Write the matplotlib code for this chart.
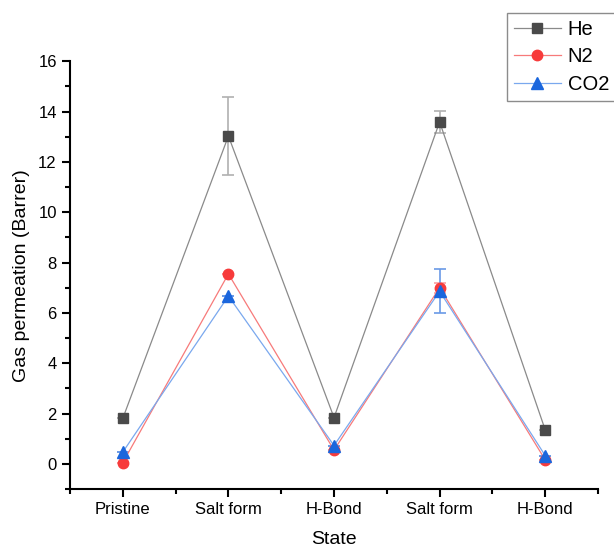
import numpy as np
import matplotlib.pyplot as plt
from matplotlib.ticker import MultipleLocator, FixedLocator
from matplotlib.lines import Line2D

plt.rcParams['font.family'] = ['Liberation Sans', 'DejaVu Sans']

states = ['Pristine', 'Salt form', 'H-Bond', 'Salt form', 'H-Bond']
he = [1.81, 13.03, 1.84, 13.59, 1.35]
he_err = [0, 1.55, 0, 0.43, 0]
n2 = [0.05, 7.55, 0.55, 7.0, 0.16]
n2_err = [0, 0, 0, 0.2, 0]
co2 = [0.47, 6.67, 0.73, 6.86, 0.33]
co2_err = [0, 0, 0, 0.87, 0]

x = np.arange(1, len(states) + 1)

fig = plt.figure(figsize=(6.14, 5.52), dpi=100)
ax = fig.add_axes([0.114, 0.114, 0.86, 0.775])

series = [
    ('He', he, he_err, 's', 7, '#4a4a4a', '#8a8a8a', '#b0b0b0'),
    ('N2', n2, n2_err, 'o', 7.5, '#f73b3b', '#f77a7a', '#f9a0a0'),
    ('CO2', co2, co2_err, '^', 8, '#1a66dd', '#7aa8ee', '#6a9ae6'),
]
handles = []
for name, y, err, mk, ms, mc, lc, ec in series:
    ax.errorbar(x, y, yerr=err, color=lc, lw=0.9, marker=mk, ms=ms,
                mfc=mc, mec=mc, ecolor=ec, elinewidth=1.2, capsize=4,
                capthick=1.2)
    handles.append(Line2D([], [], color=lc, lw=0.9, marker=mk, ms=ms,
                          mfc=mc, mec=mc, label=name))

ax.set_xlim(0.5, 5.5)
ax.set_ylim(-1, 16)
ax.set_xticks(x)
ax.set_xticklabels(states)
ax.xaxis.set_minor_locator(FixedLocator(np.arange(0.5, 6, 1)))
ax.yaxis.set_minor_locator(MultipleLocator(1))
ax.set_yticks(np.arange(0, 17, 2))

for s in ['top', 'right']:
    ax.spines[s].set_visible(False)
for s in ['left', 'bottom']:
    ax.spines[s].set_linewidth(1.5)
ax.tick_params(which='major', direction='out', length=6, width=1.5, labelsize=12)
ax.tick_params(which='minor', direction='out', length=3.5, width=1.5)

ax.set_xlabel('State', fontsize=14, labelpad=10)
ax.set_ylabel('Gas permeation (Barrer)', fontsize=14, labelpad=6)

leg = fig.legend(handles=handles, loc='upper left', bbox_to_anchor=(0.826, 0.977),
                 fontsize=14.5, frameon=True, fancybox=False, edgecolor='#707070',
                 handlelength=2.3, handletextpad=0.35, borderpad=0.35,
                 borderaxespad=0, labelspacing=0.42)
leg.get_frame().set_linewidth(1.0)

fig.savefig('out.png', dpi=100)
